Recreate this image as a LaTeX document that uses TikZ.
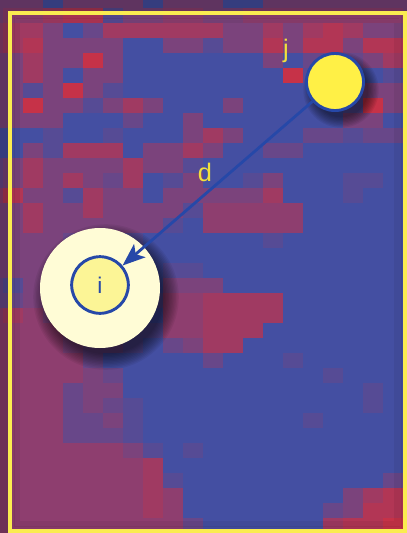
\documentclass[tikz,border=0pt]{standalone}
\usepackage{fontspec}
\setmainfont{Liberation Sans}
\usetikzlibrary{arrows.meta}
\definecolor{hb}{RGB}{68,79,162}
\definecolor{hr}{RGB}{198,50,72}
\definecolor{cblue}{RGB}{38,72,168}
\definecolor{jyel}{RGB}{255,240,70}
\definecolor{ipale}{RGB}{255,252,214}
\definecolor{iyel}{RGB}{252,245,150}
\definecolor{labyel}{RGB}{242,224,60}
\definecolor{frameyel}{RGB}{250,236,80}
\tikzset{
  jnode/.style={circle, fill=jyel, draw=cblue, line width=2.2pt, minimum size=42.8pt, inner sep=0pt},
  bigc/.style={circle, fill=ipale, minimum size=90pt, inner sep=0pt},
  innerc/.style={circle, fill=iyel, draw=cblue, line width=2.2pt, minimum size=42.5pt, inner sep=0pt, text=cblue, font=\fontsize{17}{19}\selectfont},
  lab/.style={text=labyel, inner sep=0pt, font=\fontsize{19}{22}\selectfont},
  arr/.style={draw=cblue, line width=2.1pt, -{Stealth[length=17pt,width=13pt,inset=4pt]}}
}
\begin{document}
\begin{tikzpicture}[x=0.75pt,y=-0.75pt]
\useasboundingbox (0,0) rectangle (407,533);
\begin{scope}
\clip (0,0) rectangle (407,533);
\foreach \row [count=\m from -1] in {
{4,4,4,1,4,4,4,4,1,4,4,4,1,1,4,4,4,4,4,4,4,4},
{4,5,5,6,7,7,2,4,4,5,5,4,4,5,5,5,5,5,5,5,5,4},
{5,6,6,4,1,3,6,6,6,6,6,6,4,4,6,4,6,7,6,4,4,5},
{5,6,7,4,4,4,4,1,1,4,4,2,4,4,7,4,7,7,4,7,7,5},
{4,4,6,4,4,8,4,1,1,1,1,1,1,1,4,1,3,3,3,4,6,5},
{4,4,6,4,1,4,4,1,1,1,1,1,1,1,1,8,2,2,2,1,2,7},
{4,4,2,4,8,4,2,1,1,1,1,1,1,1,1,1,1,1,2,4,4,5},
{4,4,8,4,4,2,4,6,4,1,1,1,4,1,1,1,1,1,2,8,4,4},
{4,4,4,4,1,1,1,3,1,1,4,1,1,1,1,1,1,1,4,4,1,3},
{1,1,1,2,1,1,2,1,1,1,4,6,4,1,1,1,3,3,2,3,3,3},
{1,1,4,2,6,6,6,1,4,4,6,4,1,1,3,3,1,1,1,1,1,2},
{3,4,6,4,4,4,4,6,4,4,2,1,1,1,1,1,1,1,1,1,1,2},
{3,4,6,4,6,4,3,6,1,2,4,1,1,2,4,1,1,1,2,2,1,2},
{5,7,4,4,2,6,4,4,1,4,4,4,4,4,6,1,1,1,2,1,1,2},
{4,4,6,4,4,6,4,4,4,4,2,5,5,5,5,5,1,1,1,1,1,2},
{4,4,6,4,4,4,4,4,4,2,1,5,5,5,5,5,1,1,1,1,1,2},
{4,4,4,4,3,3,3,2,1,1,1,1,1,1,2,1,1,1,1,1,1,2},
{4,4,4,4,3,3,3,2,1,1,1,1,1,1,1,1,1,1,1,1,1,2},
{4,4,4,4,3,3,3,2,1,2,2,1,1,1,1,1,1,1,1,1,1,2},
{3,2,4,4,3,3,3,2,1,4,4,4,1,1,1,1,1,1,1,1,1,2},
{3,3,4,4,3,3,3,2,2,5,5,6,6,6,6,1,1,1,1,1,1,2},
{5,6,5,4,3,3,3,2,1,5,5,6,6,6,6,1,1,1,1,1,1,2},
{5,5,5,5,4,3,3,2,2,5,5,6,6,6,1,1,1,1,1,1,1,2},
{5,5,5,5,4,3,3,2,1,3,4,6,6,1,1,1,1,1,1,1,1,2},
{5,5,5,5,5,3,1,1,1,1,1,3,1,1,1,2,1,1,1,1,1,2},
{5,5,5,5,5,4,3,1,1,1,1,1,1,1,1,1,1,2,1,1,1,2},
{5,5,5,5,3,4,4,1,1,1,1,1,1,1,1,1,1,1,1,2,1,2},
{5,5,5,5,3,4,3,2,1,1,1,1,1,1,1,1,1,1,1,2,1,2},
{5,5,5,5,3,3,4,2,1,1,1,1,1,1,1,1,2,1,1,1,1,2},
{5,5,5,5,3,3,3,2,1,1,1,1,1,1,1,1,1,1,1,1,1,2},
{5,5,5,5,5,5,5,4,2,1,2,1,1,1,1,1,1,1,1,1,1,2},
{5,5,5,5,5,5,5,5,6,1,1,1,1,1,1,1,1,1,1,1,1,2},
{5,5,5,5,5,5,5,5,6,2,1,1,1,1,1,1,1,1,1,1,3,3},
{5,5,5,5,5,5,5,5,6,5,1,1,1,1,1,1,1,1,4,6,7,5},
{5,5,5,5,5,5,5,5,6,5,1,1,1,1,1,1,1,3,4,7,7,5},
{5,5,5,5,5,5,5,5,5,5,3,1,1,1,1,1,1,6,7,7,8,5},
{5,5,5,5,5,5,5,5,5,5,3,1,1,1,1,1,1,6,7,7,8,5}}{
  \foreach \v [count=\k from -1] in \row {
    \pgfmathtruncatemacro\p{max(0,\v-1)*100/7}
    \pgfmathtruncatemacro\p{min(\p,100)}
    \fill[hr!\p!hb] ({3+20*\k},{8+15*\m}) rectangle ++(20.5,15.5);
  }
}
% darker outside of frame
\fill[black, opacity=0.22, even odd rule] (0,0) rectangle (407,533) (10,12.5) rectangle (404.5,531);
% inner shadow along the frame
\foreach \t in {0,...,6}
  \draw[black, opacity=0.06, line width=1.2pt] ({11+\t*1.4},{13.5+\t*1.4}) rectangle ({403.5-\t*1.4},{530-\t*1.4});
\end{scope}
% frame
\draw[frameyel, line width=3pt] (10,12.5) rectangle (404.5,531);
% shadows
\foreach \t in {1,...,12}
  \fill[black, opacity=0.06] (106,297) circle ({56+\t*1.4});
\foreach \t in {1,...,9}
  \fill[black, opacity=0.065] (341,90) circle ({26+\t*1.3});
% nodes
\node[bigc] (ibig) at (100,288) {};
\node[innerc] (i) at (100,285) {i};
\node[jnode] (j) at (335,82) {};
\node[lab] (jl) at (286,51) {j};
\node[lab] (dl) at (205,172) {d};
% connector
\draw[arr] (j) -- (i);
\end{tikzpicture}
\end{document}
